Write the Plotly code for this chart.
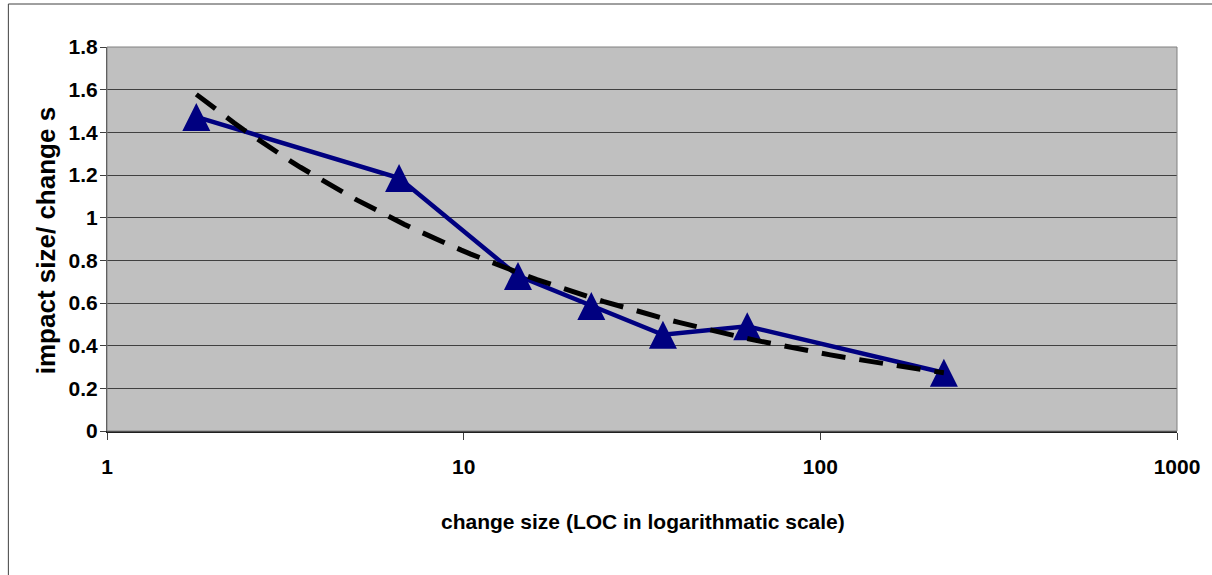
import numpy as np
import plotly.graph_objects as go

# ---- data ----
change_size = [1.78, 6.59, 14.2, 22.8, 36.2, 62.4, 222]
impact_ratio = [1.472, 1.186, 0.727, 0.586, 0.451, 0.491, 0.273]

x_tick_vals = [1, 10, 100, 1000]
x_tick_text = ["1", "10", "100", "1000"]
y_tick_vals = [0, 0.2, 0.4, 0.6, 0.8, 1.0, 1.2, 1.4, 1.6, 1.8]
y_tick_text = ["0", "0.2", "0.4", "0.6", "0.8", "1", "1.2", "1.4", "1.6", "1.8"]

x_title = "change size (LOC in logarithmatic scale)"
y_title = "impact size/ change s"

# power trend line (fit of the data, as in the spreadsheet trendline)
b, ln_a = np.polyfit(np.log(change_size), np.log(impact_ratio), 1)
trend_x = np.geomspace(min(change_size), max(change_size), 80)
trend_y = np.exp(ln_a) * trend_x ** b

FONT = "Liberation Sans, Arial, sans-serif"
NAVY = "#000080"

fig = go.Figure()
fig.add_trace(go.Scatter(
    x=change_size, y=impact_ratio, mode="lines",
    line=dict(color=NAVY, width=4.5), hoverinfo="skip", showlegend=False))
fig.add_trace(go.Scatter(
    x=change_size, y=impact_ratio, mode="markers",
    marker=dict(symbol="arrow-down", angle=180, standoff=14, size=28,
                color=NAVY, line=dict(width=0)),
    showlegend=False))
fig.add_trace(go.Scatter(
    x=trend_x, y=trend_y, mode="lines",
    line=dict(color="black", width=5, dash="24px,14px"),
    hoverinfo="skip", showlegend=False))

W, H = 1212, 575
L, R, T, B = 107, 31, 47, 144
pw, ph = W - L - R, H - T - B

def px(xp):
    return (xp - L) / pw

def py(yp):
    return (H - B - yp) / ph

fig.update_layout(
    width=W, height=H,
    margin=dict(l=L, r=R, t=T, b=B, pad=0),
    paper_bgcolor="white", plot_bgcolor="#C0C0C0",
    font=dict(family=FONT, color="black"),
    xaxis=dict(type="log", range=[0, 3], tickvals=x_tick_vals, ticktext=x_tick_text,
               showgrid=False, zeroline=False, showline=True, linecolor="#202020",
               linewidth=1.5, ticks="outside", ticklen=7, tickcolor="#404040",
               tickfont=dict(family=FONT, size=21, color="black", weight="bold"),
               ticklabelstandoff=9),
    yaxis=dict(range=[0, 1.8], tickvals=y_tick_vals, ticktext=y_tick_text,
               showgrid=True, gridcolor="#404040", gridwidth=1, zeroline=False,
               showline=True, linecolor="#404040", linewidth=1,
               ticks="outside", ticklen=6, tickcolor="#404040",
               tickfont=dict(family=FONT, size=21, color="black", weight="bold"),
               ticklabelstandoff=-2),
    shapes=[
        dict(type="rect", xref="paper", yref="paper", x0=0, x1=1, y0=0, y1=1,
             line=dict(color="#808080", width=1), layer="above"),
        dict(type="rect", xref="paper", yref="paper", x0=px(8), x1=px(1230),
             y0=py(620), y1=py(4), line=dict(color="#404040", width=1), layer="below"),
    ],
    annotations=[
        dict(text=x_title, xref="paper", yref="paper", x=px(645), y=py(521),
             xanchor="center", yanchor="middle", showarrow=False,
             font=dict(family=FONT, size=21, color="black", weight="bold")),
        dict(text=y_title, xref="paper", yref="paper", x=px(46), y=py(241),
             xanchor="center", yanchor="middle", showarrow=False, textangle=-90,
             font=dict(family=FONT, size=26, color="black", weight="bold")),
    ],
)

fig.write_html("out.html")
